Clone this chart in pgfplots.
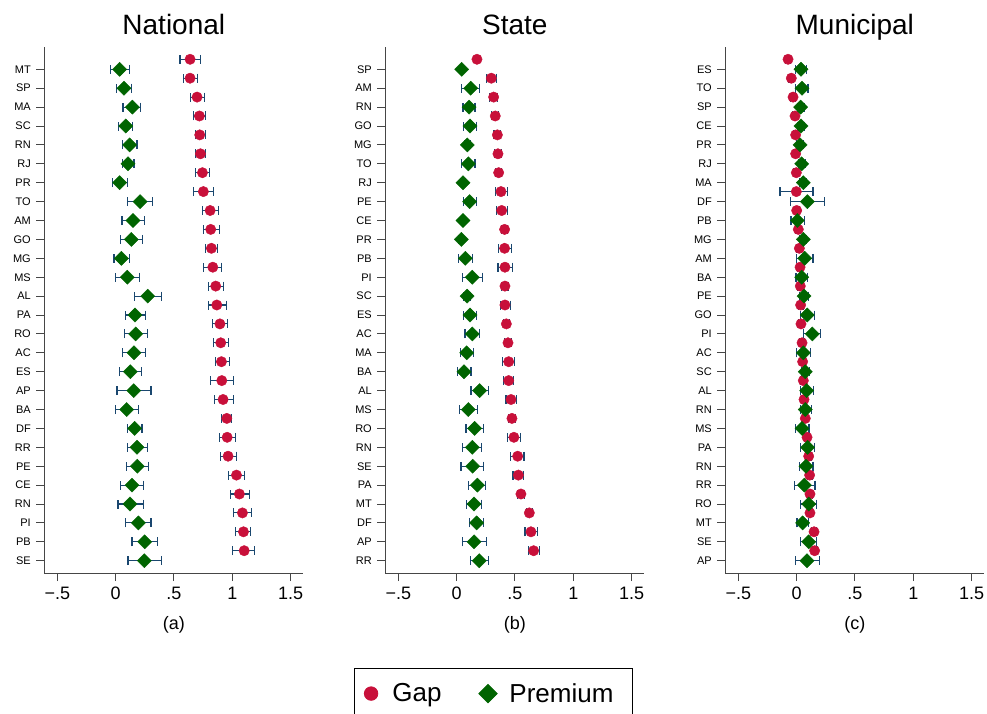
\documentclass[border=0pt]{standalone}
\usepackage{fontspec}
\setmainfont{Liberation Sans}
\usepackage{pgfplots}
\usepackage{pgfplotstable}
\pgfplotsset{compat=1.18}
\definecolor{gapred}{RGB}{200,16,58}
\definecolor{premgreen}{RGB}{0,100,0}
\definecolor{cinavy}{RGB}{26,71,111}
\definecolor{axgray}{RGB}{70,70,70}

% ---------- Panel (a) National ----------
\pgfplotstableread{
y x lo hi
27 0.638 0.552 0.729
26 0.638 0.584 0.701
25 0.698 0.638 0.758
24 0.718 0.670 0.770
23 0.721 0.682 0.770
22 0.727 0.687 0.767
21 0.744 0.682 0.807
20 0.752 0.670 0.842
19 0.810 0.744 0.878
18 0.815 0.750 0.887
17 0.821 0.770 0.876
16 0.833 0.755 0.907
15 0.858 0.793 0.925
14 0.867 0.793 0.947
13 0.894 0.833 0.959
12 0.901 0.838 0.970
11 0.907 0.853 0.976
10 0.910 0.816 1.007
9 0.921 0.845 1.007
8 0.953 0.907 0.994
7 0.956 0.890 1.024
6 0.964 0.896 1.036
5 1.036 0.967 1.105
4 1.061 0.982 1.148
3 1.087 1.010 1.165
2 1.096 1.027 1.156
1 1.102 1.005 1.188
}\gapA
\pgfplotstableread{
y x lo hi
27 0.034 -0.043 0.120
26 0.071 0.008 0.137
25 0.143 0.063 0.215
24 0.086 0.026 0.148
23 0.120 0.057 0.183
22 0.106 0.060 0.157
21 0.034 -0.029 0.100
20 0.209 0.100 0.318
19 0.149 0.054 0.244
18 0.134 0.043 0.230
17 0.049 -0.014 0.115
16 0.100 -0.001 0.204
15 0.275 0.164 0.390
14 0.166 0.083 0.255
13 0.172 0.074 0.272
12 0.157 0.060 0.255
11 0.126 0.031 0.218
10 0.155 0.011 0.303
9 0.094 -0.005 0.198
8 0.163 0.103 0.226
7 0.183 0.103 0.272
6 0.186 0.094 0.284
5 0.140 0.040 0.238
4 0.123 0.020 0.235
3 0.195 0.083 0.303
2 0.249 0.140 0.358
1 0.246 0.106 0.390
}\premA

% ---------- Panel (b) State ----------
\pgfplotstableread{
y x lo hi
27 0.174 0.160 0.188
26 0.297 0.257 0.343
25 0.317 0.283 0.351
24 0.331 0.300 0.362
23 0.349 0.320 0.378
22 0.354 0.325 0.383
21 0.360 0.332 0.388
20 0.380 0.331 0.434
19 0.386 0.343 0.437
18 0.411 0.385 0.437
17 0.411 0.360 0.469
16 0.414 0.354 0.480
15 0.414 0.388 0.440
14 0.414 0.377 0.460
13 0.426 0.398 0.454
12 0.440 0.412 0.468
11 0.446 0.391 0.494
10 0.446 0.400 0.491
9 0.466 0.423 0.514
8 0.474 0.445 0.503
7 0.491 0.434 0.546
6 0.523 0.463 0.577
5 0.529 0.483 0.571
4 0.551 0.522 0.580
3 0.623 0.595 0.651
2 0.637 0.586 0.694
1 0.660 0.617 0.709
}\gapB
\pgfplotstableread{
y x lo hi
27 0.043 0.025 0.061
26 0.120 0.043 0.194
25 0.106 0.054 0.157
24 0.114 0.060 0.169
23 0.091 0.065 0.117
22 0.100 0.043 0.157
21 0.054 0.030 0.078
20 0.111 0.060 0.169
19 0.054 0.030 0.078
18 0.040 0.020 0.060
17 0.074 0.014 0.137
16 0.134 0.051 0.223
15 0.089 0.060 0.118
14 0.114 0.060 0.171
13 0.134 0.071 0.197
12 0.086 0.034 0.146
11 0.063 0.009 0.123
10 0.197 0.123 0.271
9 0.100 0.023 0.180
8 0.154 0.080 0.229
7 0.134 0.051 0.214
6 0.137 0.037 0.229
5 0.177 0.103 0.246
4 0.149 0.083 0.211
3 0.171 0.109 0.229
2 0.149 0.049 0.254
1 0.194 0.117 0.271
}\premB

% ---------- Panel (c) Municipal ----------
\pgfplotstableread{
y x lo hi
27 -0.074 -0.094 -0.054
26 -0.046 -0.066 -0.026
25 -0.031 -0.051 -0.011
24 -0.014 -0.034 0.006
23 -0.009 -0.029 0.011
22 -0.009 -0.029 0.011
21 -0.003 -0.023 0.017
20 -0.003 -0.143 0.140
19 0.000 -0.020 0.020
18 0.014 -0.006 0.034
17 0.023 0.003 0.043
16 0.029 0.009 0.049
15 0.031 0.011 0.051
14 0.034 0.014 0.054
13 0.037 0.017 0.057
12 0.046 0.026 0.066
11 0.051 0.031 0.071
10 0.057 0.037 0.077
9 0.063 0.043 0.083
8 0.074 0.054 0.094
7 0.089 0.069 0.109
6 0.103 0.083 0.123
5 0.111 0.091 0.131
4 0.114 0.094 0.134
3 0.114 0.094 0.134
2 0.149 0.129 0.169
1 0.154 0.134 0.174
}\gapC
\pgfplotstableread{
y x lo hi
27 0.037 -0.010 0.085
26 0.046 -0.009 0.097
25 0.034 0.005 0.063
24 0.037 0.008 0.066
23 0.029 0.000 0.058
22 0.043 0.014 0.072
21 0.057 0.028 0.086
20 0.091 -0.051 0.240
19 0.006 -0.049 0.066
18 0.057 0.028 0.086
17 0.069 0.000 0.140
16 0.043 -0.006 0.091
15 0.063 0.025 0.100
14 0.091 0.034 0.149
13 0.134 0.060 0.206
12 0.057 0.000 0.117
11 0.074 0.040 0.108
10 0.086 0.031 0.146
9 0.074 0.029 0.126
8 0.046 -0.009 0.106
7 0.094 0.031 0.154
6 0.080 0.026 0.140
5 0.066 -0.020 0.157
4 0.103 0.031 0.171
3 0.051 0.003 0.103
2 0.103 0.031 0.171
1 0.089 -0.011 0.194
}\premC

\pgfplotsset{
  panel/.style={
    width=259pt, height=526pt, scale only axis,
    anchor=south west,
    xmin=-0.612, xmax=1.609, ymin=0.35, ymax=28.18,
    axis lines=left,
    axis line style={-, color=axgray, line width=1pt},
    tick align=outside, major tick length=8pt,
    tick style={color=axgray, line width=1pt},
    xtick={-0.5,0,0.5,1,1.5},
    xticklabels={−.5,0,.5,1,1.5},
    ytick={1,...,27},
    xticklabel style={font=\fontsize{18}{20}\selectfont, anchor=base, yshift=-18pt},
    yticklabel style={font=\fontsize{11}{12}\selectfont, anchor=east, xshift=-2pt},
    title style={font=\fontsize{28}{30}\selectfont, at={(0.5,1)}, anchor=base, yshift=6.5pt},
    xlabel style={font=\fontsize{18}{20}\selectfont, at={(0.5,0)}, anchor=base, yshift=-56.5pt},
    clip=false,
  },
  gapplot/.style={only marks, mark=*, mark size=5.2pt, color=gapred,
    mark options={draw=gapred, fill=gapred},
    error bars/.cd, x dir=both, x explicit, error mark=|,
    error bar style={color=cinavy, line width=1.1pt},
    error mark options={color=cinavy, line width=1.1pt, mark size=4.5pt}},
  premplot/.style={only marks, mark=square*, mark size=5pt, color=premgreen,
    mark options={draw=premgreen, fill=premgreen, rotate=45},
    error bars/.cd, x dir=both, x explicit, error mark=|,
    error bar style={color=cinavy, line width=1.1pt},
    error mark options={color=cinavy, line width=1.1pt, mark size=4.5pt}},
}

\begin{document}
\begin{tikzpicture}
\useasboundingbox (0,0) rectangle (987pt,-713pt);

\begin{axis}[panel, at={(44.3pt,-573pt)}, title={National}, xlabel={(a)},
  yticklabels={SE,PB,PI,RN,CE,PE,RR,DF,BA,AP,ES,AC,RO,PA,AL,MS,MG,GO,AM,TO,PR,RJ,RN,SC,MA,SP,MT}]
\addplot[gapplot] table[x=x, y expr=\thisrow{y}+0.53,
  x error plus expr=\thisrow{hi}-\thisrow{x}, x error minus expr=\thisrow{x}-\thisrow{lo}] {\gapA};
\addplot[premplot] table[x=x, y=y,
  x error plus expr=\thisrow{hi}-\thisrow{x}, x error minus expr=\thisrow{x}-\thisrow{lo}] {\premA};
\end{axis}

\begin{axis}[panel, at={(385.3pt,-573pt)}, title={State}, xlabel={(b)},
  yticklabels={RR,AP,DF,MT,PA,SE,RN,RO,MS,AL,BA,MA,AC,ES,SC,PI,PB,PR,CE,PE,RJ,TO,MG,GO,RN,AM,SP},
  legend columns=2,
  legend image code/.code={\path (-9pt,0pt) (19pt,0pt); \draw[#1, every mark/.append style={scale=1.3}] plot coordinates {(0pt,0pt)};},
  legend style={at={(0.418,-0.1806)}, anchor=north, draw=black, line width=0.8pt,
    font=\fontsize{26}{28}\selectfont, inner xsep=7pt, inner ysep=13pt,
    /tikz/every even column/.append style={column sep=35pt}},
  ]
\addplot[gapplot] table[x=x, y expr=\thisrow{y}+0.53,
  x error plus expr=\thisrow{hi}-\thisrow{x}, x error minus expr=\thisrow{x}-\thisrow{lo}] {\gapB};
\addlegendentry{Gap}
\addplot[premplot] table[x=x, y=y,
  x error plus expr=\thisrow{hi}-\thisrow{x}, x error minus expr=\thisrow{x}-\thisrow{lo}] {\premB};
\addlegendentry{\makebox[114pt][l]{Premium}}
\end{axis}

\begin{axis}[panel, at={(725.3pt,-573pt)}, title={Municipal}, xlabel={(c)},
  yticklabels={AP,SE,MT,RO,RR,RN,PA,MS,RN,AL,SC,AC,PI,GO,PE,BA,AM,MG,PB,DF,MA,RJ,PR,CE,SP,TO,ES}]
\addplot[gapplot] table[x=x, y expr=\thisrow{y}+0.53,
  x error plus expr=\thisrow{hi}-\thisrow{x}, x error minus expr=\thisrow{x}-\thisrow{lo}] {\gapC};
\addplot[premplot] table[x=x, y=y,
  x error plus expr=\thisrow{hi}-\thisrow{x}, x error minus expr=\thisrow{x}-\thisrow{lo}] {\premC};
\end{axis}
\end{tikzpicture}
\end{document}
